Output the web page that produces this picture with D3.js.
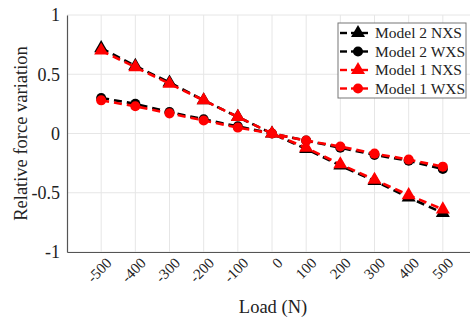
<!DOCTYPE html>
<html>
<head>
<meta charset="utf-8">
<script src="https://cdn.jsdelivr.net/npm/d3@7"></script>
<style>
  html, body { margin:0; padding:0; background:#fff; }
  svg text { font-family: "Liberation Serif", "Times New Roman", serif !important; }
</style>
</head>
<body>
<div id="chart"></div>
<script>
// values
const loads = [-500, -400, -300, -200, -100, 0, 100, 200, 300, 400, 500];
const model2NXS = [0.72, 0.57, 0.43, 0.28, 0.14, 0, -0.13, -0.27, -0.40, -0.54, -0.67];
const model2WXS = [0.30, 0.25, 0.18, 0.12, 0.06, 0, -0.06, -0.12, -0.18, -0.23, -0.30];
const model1NXS = [0.70, 0.56, 0.42, 0.28, 0.14, 0, -0.12, -0.26, -0.39, -0.52, -0.64];
const model1WXS = [0.28, 0.23, 0.17, 0.11, 0.05, 0, -0.06, -0.11, -0.17, -0.22, -0.28];
const yTicks = [-1, -0.5, 0, 0.5, 1];

const series = [
  {name:'Model 2 NXS', values:model2NXS, color:'#000', marker:'triangle'},
  {name:'Model 2 WXS', values:model2WXS, color:'#000', marker:'circle'},
  {name:'Model 1 NXS', values:model1NXS, color:'#f00', marker:'triangle'},
  {name:'Model 1 WXS', values:model1WXS, color:'#f00', marker:'circle'}
];

const FONT = '"Liberation Serif", "Times New Roman", serif';
const W = 470, H = 322;
const svg = d3.select('#chart').append('svg').attr('width', W).attr('height', H)
  .attr('font-family', FONT);

const x = d3.scaleLinear().domain([-600, 600]).range([67, 477]);
const y = d3.scaleLinear().domain([-1, 1]).range([252, 15]);

// grid
svg.append('g').selectAll('line').data(loads).enter().append('line')
  .attr('x1', d=>x(d)).attr('x2', d=>x(d)).attr('y1', y(-1)).attr('y2', y(1))
  .attr('stroke', '#e6e6e6').attr('stroke-width', 1);
svg.append('g').selectAll('line').data(yTicks).enter().append('line')
  .attr('x1', x(-600)).attr('x2', W).attr('y1', d=>y(d)).attr('y2', d=>y(d))
  .attr('stroke', '#e6e6e6').attr('stroke-width', 1);

// axes
const xAxis = svg.append('g').attr('transform', `translate(0,${y(-1)})`)
  .call(d3.axisBottom(x).tickValues(loads).tickSize(0).tickFormat(''))
  .attr('font-family', FONT);
xAxis.select('.domain').attr('stroke', '#555').attr('stroke-width', 1.2);
xAxis.selectAll('.tick').append('text')
  .attr('text-anchor', 'end')
  .attr('transform', 'translate(11,12) rotate(-45)')
  .attr('font-size', 15)
  .attr('fill', '#222')
  .text(d=>d);

const yAxis = svg.append('g').attr('transform', `translate(${x(-600)},0)`)
  .call(d3.axisLeft(y).tickValues(yTicks).tickSize(0).tickPadding(7).tickFormat(d=>d))
  .attr('font-family', FONT).attr('font-size', 18);
yAxis.select('.domain').attr('stroke', '#555').attr('stroke-width', 1.2);
yAxis.selectAll('.tick text').attr('fill', '#222');

// axis titles
svg.append('text').attr('x', 273).attr('y', 313).attr('text-anchor', 'middle')
  .attr('font-size', 18.5).attr('fill', '#222').text('Load (N)');
svg.append('text').attr('transform', `translate(27,${y(0)}) rotate(-90)`)
  .attr('text-anchor', 'middle').attr('font-size', 18.5).attr('fill', '#222')
  .text('Relative force variation');

// series
const line = d3.line().x((d,i)=>x(loads[i])).y(d=>y(d));
const tri = d3.symbol().type(d3.symbolTriangle).size(85);
const circ = d3.symbol().type(d3.symbolCircle).size(80);

series.forEach(s=>{
  const g = svg.append('g');
  g.append('path').datum(s.values).attr('d', line)
    .attr('fill', 'none').attr('stroke', s.color).attr('stroke-width', 2.6)
    .attr('stroke-dasharray', '8,5');
  g.selectAll('path.m').data(s.values).enter().append('path').attr('class', 'm')
    .attr('transform', (d,i)=>`translate(${x(loads[i])},${y(d)})`)
    .attr('d', s.marker === 'triangle' ? tri : circ)
    .attr('fill', s.color);
});

// legend
const lg = svg.append('g').attr('transform', 'translate(338,23)');
lg.append('rect').attr('width', 128).attr('height', 75)
  .attr('fill', '#fff').attr('stroke', '#777').attr('stroke-width', 1);
series.forEach((s,i)=>{
  const row = lg.append('g').attr('transform', `translate(0,${10 + i*18.5})`);
  row.append('line').attr('x1', 2).attr('x2', 9).attr('stroke', s.color).attr('stroke-width', 2.4);
  row.append('line').attr('x1', 13).attr('x2', 30).attr('stroke', s.color).attr('stroke-width', 2.4);
  row.append('path').attr('transform', 'translate(20,0)')
    .attr('d', s.marker === 'triangle' ? tri : circ).attr('fill', s.color);
  row.append('text').attr('x', 37).attr('y', 5).attr('font-size', 15.5).attr('fill', '#222').text(s.name);
});
</script>
</body>
</html>
